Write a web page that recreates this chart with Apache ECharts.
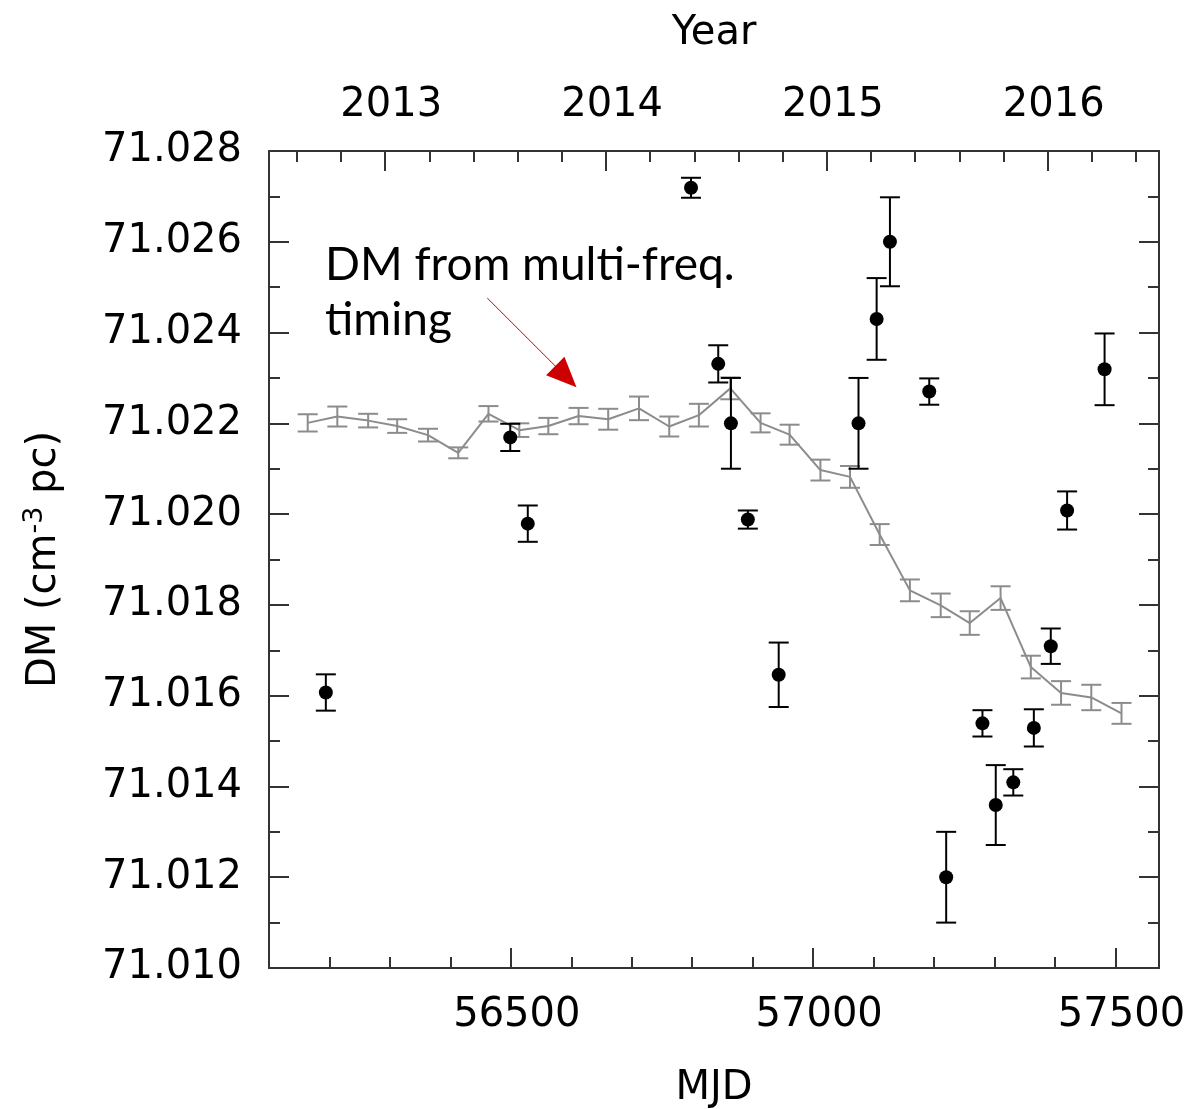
<!DOCTYPE html>
<html>
<head>
<meta charset="utf-8">
<script src="https://cdn.jsdelivr.net/npm/echarts@6/dist/echarts.min.js"></script>
<style>html,body{margin:0;padding:0;background:#fff}#c{width:1192px;height:1109px}</style>
</head>
<body>
<div id="c"></div>
<script>
// DM from multi-frequency timing (grey line with error bars)
const gridMJD = [56164,56213,56264,56312,56363,56413,56463,56514,56562,56612,56661,56712,56762,56811,56863,56913,56961,57012,57061,57110,57160,57211,57259,57310,57360,57410,57460,57510];
const gridDM  = [71.02201,71.02215,71.02206,71.02194,71.02174,71.02135,71.02221,71.02185,71.02194,71.02216,71.02209,71.02233,71.02193,71.02218,71.02277,71.02201,71.02175,71.02097,71.02082,71.01955,71.01832,71.01799,71.01760,71.01815,71.01663,71.01606,71.01596,71.01561];
const gridErr = [0.00019,0.00022,0.00015,0.00015,0.00014,0.00012,0.00017,0.00015,0.00018,0.00018,0.00023,0.00026,0.00022,0.00025,0.00024,0.00021,0.00022,0.00023,0.00024,0.00023,0.00024,0.00026,0.00026,0.00026,0.00025,0.00026,0.00028,0.00023];

// Individual DM measurements (black points)
const ptMJD = [56194,56499,56528,56798,56843,56864,56892,56943,57075,57105,57127,57192,57220,57280,57302,57331,57365,57393,57420,57482];
const ptDM  = [71.01607,71.02169,71.01979,71.02719,71.02331,71.02200,71.01988,71.01646,71.02200,71.02430,71.02600,71.02270,71.01200,71.01539,71.01359,71.01409,71.01529,71.01709,71.02008,71.02319];
const ptErr = [0.00040,0.00030,0.00040,0.00022,0.00041,0.00100,0.00020,0.00071,0.00100,0.00090,0.00098,0.00029,0.00100,0.00029,0.00088,0.00029,0.00041,0.00039,0.00042,0.00079];

// Axes
const mjdMin = 56100, mjdMax = 57572;
const mjdLabels = [56500, 57000, 57500];
const mjdMinorTicks = [56200,56300,56400,56500,56600,56700,56800,56900,57000,57100,57200,57300,57400,57500];
const yearLabels = [2013, 2014, 2015, 2016];
const dmMin = 71.010, dmMax = 71.028, dmStep = 0.002;

const MJD2012 = 55927;
const yearToMJD = y => MJD2012 + (y - 2012) * 365.25;
const mjdToYear = m => 2012 + (m - MJD2012) / 365.25;
const yearMajorMJD = yearLabels.map(yearToMJD);
const yearMinorMJD = [];
for (let k = 3; k <= 22; k++) yearMinorMJD.push(yearToMJD(2012 + k * 0.2));

const FONT = 'DejaVu Sans';
const chart = echarts.init(document.getElementById('c'), null, {renderer: 'canvas'});

function errRender(color, capHalf, lw) {
  return function (params, api) {
    const x = api.value(0), lo = api.value(1), hi = api.value(2);
    const a = api.coord([x, lo]), b = api.coord([x, hi]);
    const st = {stroke: color, lineWidth: lw};
    return {type: 'group', children: [
      {type: 'line', shape: {x1: a[0], y1: a[1], x2: b[0], y2: b[1]}, style: st},
      {type: 'line', shape: {x1: a[0] - capHalf, y1: a[1], x2: a[0] + capHalf, y2: a[1]}, style: st},
      {type: 'line', shape: {x1: b[0] - capHalf, y1: b[1], x2: b[0] + capHalf, y2: b[1]}, style: st}
    ]};
  };
}

const axisLineStyle = {show: true, lineStyle: {color: '#333', width: 2}};
const labelStyle = {fontFamily: FONT, fontSize: 40, color: '#000'};

const option = {
  animation: false,
  backgroundColor: '#fff',
  grid: {left: 269, right: 33, top: 151, bottom: 141, containLabel: false, outerBoundsMode: 'none'},
  xAxis: [
    { // bottom MJD axis
      type: 'value', position: 'bottom', min: mjdMin, max: mjdMax,
      name: 'MJD', nameLocation: 'middle', nameGap: 101,
      nameTextStyle: labelStyle,
      axisLine: axisLineStyle,
      axisTick: {show: true, inside: true, length: 11, customValues: mjdMinorTicks, lineStyle: {color: '#333', width: 2}},
      axisLabel: Object.assign({margin: 28, padding: [0, 0, 0, 12], customValues: mjdLabels, formatter: v => String(Math.round(v))}, labelStyle),
      splitLine: {show: false}
    },
    { // top Year axis
      type: 'value', position: 'top', min: mjdMin, max: mjdMax,
      name: 'Year', nameLocation: 'middle', nameGap: 97,
      nameTextStyle: labelStyle,
      axisLine: axisLineStyle,
      axisTick: {show: true, inside: true, length: 11, customValues: yearMinorMJD, lineStyle: {color: '#333', width: 2}},
      axisLabel: Object.assign({margin: 25, padding: [0, 0, 0, 12], customValues: yearMajorMJD, formatter: v => String(Math.round(mjdToYear(v)))}, labelStyle),
      splitLine: {show: false}
    },
    { // bottom major ticks
      type: 'value', position: 'bottom', min: mjdMin, max: mjdMax,
      axisLine: {show: false},
      axisTick: {show: true, inside: true, length: 20, customValues: mjdLabels, lineStyle: {color: '#333', width: 2}},
      axisLabel: {show: false}, splitLine: {show: false}
    },
    { // top major ticks
      type: 'value', position: 'top', min: mjdMin, max: mjdMax,
      axisLine: {show: false},
      axisTick: {show: true, inside: true, length: 20, customValues: yearMajorMJD, lineStyle: {color: '#333', width: 2}},
      axisLabel: {show: false}, splitLine: {show: false}
    }
  ],
  yAxis: [
    {
      type: 'value', position: 'left', min: dmMin, max: dmMax, interval: dmStep,
      name: '{a|DM (cm}{s|-3}{a| pc)}', nameLocation: 'middle', nameRotate: 90, nameGap: 200,
      nameTextStyle: {
        fontFamily: FONT, fontSize: 40, color: '#000',
        rich: {
          a: {fontFamily: FONT, fontSize: 40, lineHeight: 48, color: '#000'},
          s: {fontFamily: FONT, fontSize: 27, lineHeight: 27, verticalAlign: 'top', color: '#000'}
        }
      },
      axisLine: axisLineStyle,
      axisTick: {show: true, inside: true, length: 20, lineStyle: {color: '#333', width: 2}},
      minorTick: {show: true, splitNumber: 2, length: 11, lineStyle: {color: '#333', width: 2}},
      axisLabel: Object.assign({margin: 27, formatter: v => v.toFixed(3)}, labelStyle),
      splitLine: {show: false}, minorSplitLine: {show: false}
    },
    {
      type: 'value', position: 'right', min: dmMin, max: dmMax, interval: dmStep,
      axisLine: axisLineStyle,
      axisTick: {show: true, inside: true, length: 20, lineStyle: {color: '#333', width: 2}},
      minorTick: {show: true, splitNumber: 2, length: 11, lineStyle: {color: '#333', width: 2}},
      axisLabel: {show: false},
      splitLine: {show: false}, minorSplitLine: {show: false}
    }
  ],
  series: [
    {
      type: 'line', xAxisIndex: 0, yAxisIndex: 0,
      data: gridMJD.map((m, i) => [m, gridDM[i]]),
      showSymbol: false, symbol: 'none',
      lineStyle: {color: '#8c8c8c', width: 2},
      z: 2,
      markLine: {
        silent: true, animation: false,
        symbol: ['none', 'triangle'], symbolSize: [26, 30],
        lineStyle: {color: '#cc0000', width: 1, type: 'solid'},
        itemStyle: {color: '#cc0000'},
        label: {show: false},
        data: [[{coord: [56461, 71.02476]}, {coord: [56591, 71.02303]}]]
      }
    },
    {
      type: 'custom', xAxisIndex: 0, yAxisIndex: 0,
      renderItem: errRender('#8c8c8c', 10, 2),
      data: gridMJD.map((m, i) => [m, gridDM[i] - gridErr[i], gridDM[i] + gridErr[i]]),
      encode: {x: 0, y: [1, 2]},
      z: 2
    },
    {
      type: 'custom', xAxisIndex: 0, yAxisIndex: 0,
      renderItem: errRender('#000', 10, 2),
      data: ptMJD.map((m, i) => [m, ptDM[i] - ptErr[i], ptDM[i] + ptErr[i]]),
      encode: {x: 0, y: [1, 2]},
      z: 3
    },
    {
      type: 'scatter', xAxisIndex: 0, yAxisIndex: 0,
      data: ptMJD.map((m, i) => [m, ptDM[i]]),
      symbol: 'circle', symbolSize: 14,
      itemStyle: {color: '#000', opacity: 1},
      z: 4
    }
  ],
  graphic: [
    {
      type: 'text', left: 325, top: 238, z: 10,
      style: {text: 'DM from multi-freq.\ntiming', fontFamily: 'Lato', fontSize: 46, lineHeight: 55, fill: '#000'}
    }
  ]
};
chart.setOption(option);
</script>
</body>
</html>
